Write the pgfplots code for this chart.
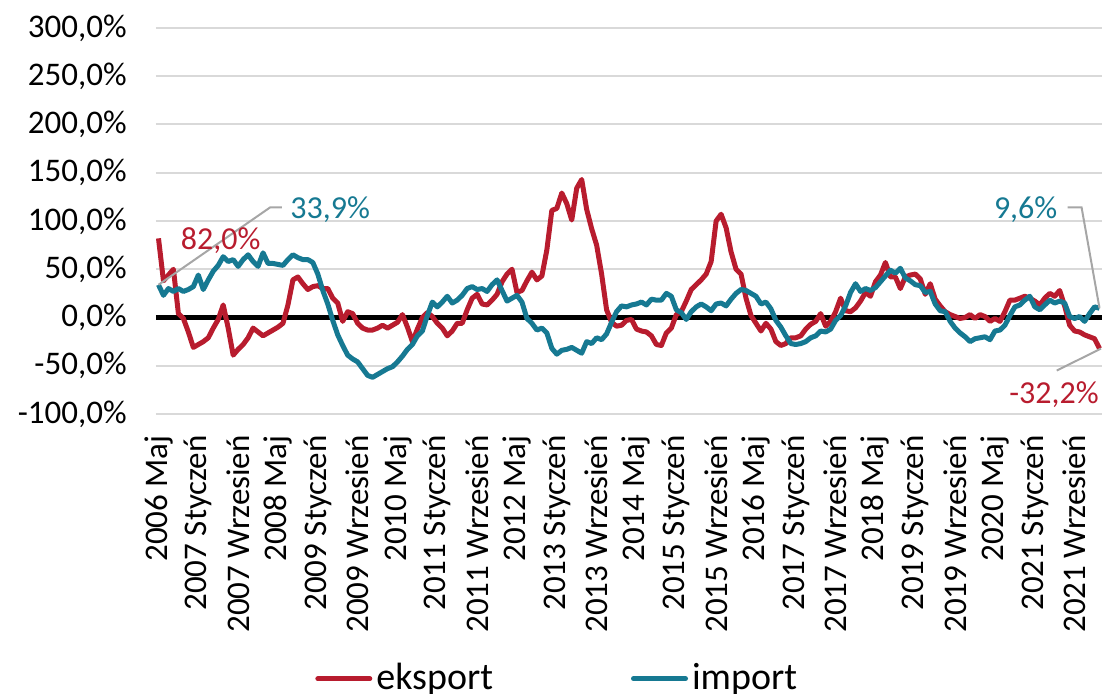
\documentclass[border=0pt]{standalone}
\usepackage{pgfplots}
\pgfplotsset{compat=1.18}
\usepackage{pgfplotstable}
\usepackage{fontspec}
\setmainfont{Carlito}

\definecolor{eksred}{RGB}{184,28,46}
\definecolor{impblue}{RGB}{22,121,146}
\definecolor{gridgray}{RGB}{217,217,217}
\definecolor{leadgray}{RGB}{166,166,166}

% monthly y/y change, May 2006 = 0
\pgfplotstableread{
idx eksport import
0 82.0 33.9
1 38 23
2 44 30
3 50 27
4 4 30
5 -1 27
6 -15 29
7 -31 32
8 -28 44
9 -25 29
10 -21 39
11 -11 48
12 -2 54
13 13 63
14 -11 58
15 -39 60
16 -33 53
17 -28 60
18 -21 65
19 -11 58
20 -15 53
21 -19 67
22 -16 56
23 -13 56
24 -10 55
25 -6 54
26 13 60
27 39 65
28 42 62
29 35 60
30 29 60
31 32 57
32 33 45
33 30 28
34 30 14
35 20 -3
36 15 -18
37 -4 -29
38 6 -39
39 4 -43
40 -6 -46
41 -11 -53
42 -13 -60
43 -13 -62
44 -11 -59
45 -8 -56
46 -11 -53
47 -8 -51
48 -5 -46
49 3 -40
50 -10 -33
51 -25 -28
52 -12 -19
53 0 -14
54 5 2
55 1 16
56 -6 11
57 -11 16
58 -19 22
59 -14 15
60 -6 18
61 -6 23
62 8 30
63 20 32
64 24 29
65 14 30
66 13 27
67 18 34
68 24 39
69 37 28
70 45 17
71 50 20
72 26 23
73 28 16
74 38 -1
75 47 -6
76 39 -13
77 43 -11
78 70 -16
79 111 -32
80 113 -38
81 129 -34
82 118 -33
83 101 -31
84 134 -34
85 143 -37
86 112 -25
87 92 -27
88 75 -21
89 45 -23
90 8 -17
91 -5 -5
92 -9 6
93 -8 12
94 -3 11
95 -2 13
96 -12 14
97 -14 16
98 -15 13
99 -19 19
100 -28 18
101 -29 18
102 -16 25
103 -11 22
104 3 8
105 6 5
106 17 -2
107 29 6
108 34 11
109 39 14
110 45 11
111 58 7
112 100 14
113 107 15
114 93 12
115 68 19
116 50 25
117 45 29
118 20 28
119 2 25
120 -6 22
121 -14 14
122 -6 16
123 -12 9
124 -25 -3
125 -29 -10
126 -27 -19
127 -21 -27
128 -21 -28
129 -19 -27
130 -12 -25
131 -7 -21
132 -4 -19
133 4 -14
134 -9 -15
135 -4 -12
136 6 -3
137 20 2
138 7 12
139 6 26
140 10 35
141 17 27
142 26 30
143 22 28
144 37 31
145 44 37
146 57 43
147 42 49
148 42 46
149 30 51
150 42 41
151 44 38
152 45 34
153 40 33
154 24 26
155 35 27
156 19 14
157 12 7
158 6 6
159 3 -4
160 1 -11
161 -1 -16
162 0 -20
163 3 -25
164 -1 -22
165 3 -21
166 1 -20
167 -4 -23
168 -1 -14
169 -4 -13
170 6 -8
171 18 2
172 18 11
173 20 13
174 22 18
175 20 22
176 17 11
177 13 8
178 20 13
179 25 18
180 22 15
181 28 17
182 12 15
183 -8 1
184 -14 -1
185 -15 1
186 -18 -4
187 -20 4
188 -22 11
189 -32.2 9.6
}\dane

\begin{document}
\fontsize{16}{19}\selectfont
\begin{tikzpicture}[font=\fontsize{16}{19}\selectfont]
\begin{axis}[
    scale only axis,
    width=473pt, height=193pt,
    xmin=-0.5, xmax=189.5,
    ymin=-100, ymax=300,
    ytick={-100,-50,...,300},
    xtick={0,8,...,184},
    xticklabels={2006 Maj, 2007 Styczeń, 2007 Wrzesień, 2008 Maj, 2009 Styczeń, 2009 Wrzesień,
        2010 Maj, 2011 Styczeń, 2011 Wrzesień, 2012 Maj, 2013 Styczeń, 2013 Wrzesień,
        2014 Maj, 2015 Styczeń, 2015 Wrzesień, 2016 Maj, 2017 Styczeń, 2017 Wrzesień,
        2018 Maj, 2019 Styczeń, 2019 Wrzesień, 2020 Maj, 2021 Styczeń, 2021 Wrzesień},
    tick label style={font=\fontsize{16.5}{19}\selectfont},
    xticklabel style={yshift=-10.5pt, rotate=90, anchor=east, inner sep=0pt},
    yticklabel style={xshift=-14.5pt, anchor=east, inner sep=0pt,
        /pgf/number format/fixed, /pgf/number format/fixed zerofill,
        /pgf/number format/precision=1, /pgf/number format/use comma,
        /pgf/number format/assume math mode=true},
    yticklabel={\pgfmathprintnumber{\tick}\%},
    ymajorgrids,
    major grid style={gridgray, line width=1pt},
    extra y ticks={0},
    extra y tick labels={},
    extra y tick style={ymajorgrids=true, major grid style={black, line width=2.3pt}},
    axis line style={draw=none},
    major tick length=0pt,
    legend columns=2,
    legend style={at={(0.168,-0.686)}, anchor=west, draw=none, fill=none,
        font=\fontsize{19}{22}\selectfont,
        inner sep=0pt, /tikz/every even column/.append style={column sep=67pt}},
    legend image code/.code={\draw[#1, line cap=round] (0pt,0pt) -- (26pt,0pt);},
]
\addplot[eksred, line width=2.5pt, line join=round] table[x=idx, y=eksport] {\dane};
\addlegendentry{eksport}
\addplot[impblue, line width=2.5pt, line join=round] table[x=idx, y=import] {\dane};
\addlegendentry{import}

% data labels with leader lines
\draw[leadgray, line width=1pt] (axis cs:0,33.9) -- (axis cs:22.4,114) -- (axis cs:24.8,114);
\node[impblue, anchor=west, inner sep=0pt] at (axis cs:26.4,112) {33,9\%};
\node[eksred] at (axis cs:12.5,80) {82,0\%};
\draw[leadgray, line width=1pt] (axis cs:189,9.6) -- (axis cs:185.4,114) -- (axis cs:182.6,114);
\node[impblue, anchor=east, inner sep=0pt] at (axis cs:180.6,112) {9,6\%};
\draw[leadgray, line width=1pt] (axis cs:189.3,-32.2) -- (axis cs:180.4,-55);
\node[eksred, anchor=east, inner sep=0pt] at (axis cs:188.9,-80) {-32,2\%};
\end{axis}
\pgfresetboundingbox
\path[use as bounding box] ([xshift=-78pt,yshift=-140pt]current axis.south west)
    rectangle ([yshift=14pt]current axis.north east);
\end{tikzpicture}
\end{document}
